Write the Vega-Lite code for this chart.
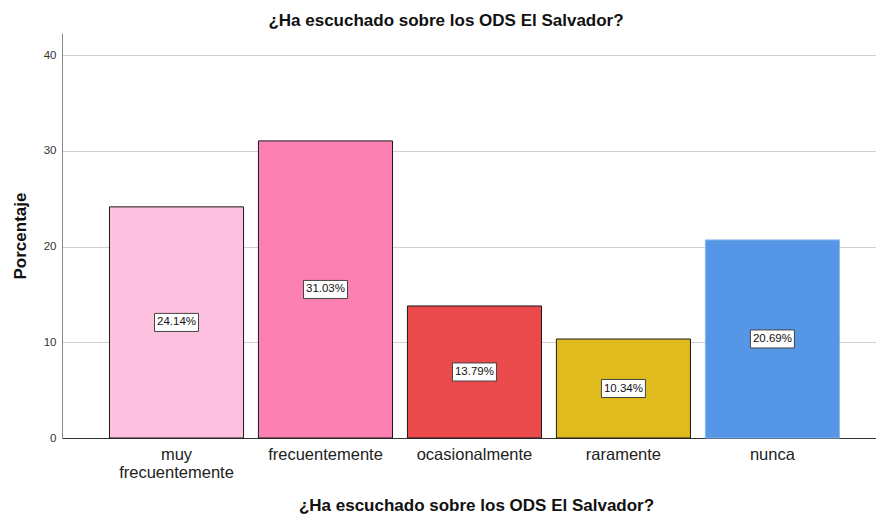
{
  "$schema": "https://vega.github.io/schema/vega-lite/v6.json",
  "width": 814,
  "height": 405,
  "autosize": {"type": "none"},
  "padding": {"left": 62, "top": 33, "right": 0, "bottom": 76},
  "background": "white",
  "config": {
    "font": "Liberation Sans",
    "view": {"stroke": null}
  },
  "title": {
    "text": "¿Ha escuchado sobre los ODS El Salvador?",
    "fontSize": 17,
    "fontWeight": "bold",
    "color": "#111",
    "anchor": "middle",
    "dx": -23,
    "offset": 3
  },
  "data": {
    "values": [
      {"cat": "muy frecuentemente", "value": 24.14},
      {"cat": "frecuentemente", "value": 31.03},
      {"cat": "ocasionalmente", "value": 13.79},
      {"cat": "raramente", "value": 10.34},
      {"cat": "nunca", "value": 20.69}
    ]
  },
  "transform": [
    {"calculate": "datum.value / 2", "as": "mid"},
    {"calculate": "format(datum.value, '.2f') + '%'", "as": "lbl"}
  ],
  "encoding": {
    "x": {
      "field": "cat",
      "type": "nominal",
      "sort": null,
      "scale": {"paddingInner": 0.1, "paddingOuter": 0.282, "align": 0.565},
      "axis": {
        "title": "¿Ha escuchado sobre los ODS El Salvador?",
        "titleFontSize": 17,
        "titleFontWeight": "bold",
        "titleColor": "#111",
        "titlePadding": 17,
        "titleX": 414,
        "labelAngle": 0,
        "labelFontSize": 16.5,
        "labelColor": "#222",
        "labelPadding": 8,
        "labelLineHeight": 18,
        "labelExpr": "datum.label == 'muy frecuentemente' ? ['muy', 'frecuentemente'] : datum.label",
        "ticks": false,
        "domainColor": "#333",
        "grid": false
      }
    }
  },
  "layer": [
    {
      "mark": {"type": "bar", "strokeWidth": 1},
      "encoding": {
        "y": {
          "field": "value",
          "type": "quantitative",
          "scale": {"domain": [0, 42.3], "nice": false},
          "axis": {
            "title": "Porcentaje",
            "titleFontSize": 17,
            "titleFontWeight": "bold",
            "titleColor": "#111",
            "titlePadding": 14,
            "values": [0, 10, 20, 30, 40],
            "labelFontSize": 11.5,
            "labelColor": "#333",
            "labelPadding": 6,
            "ticks": false,
            "domainColor": "#888",
            "gridColor": "#d0d0d0"
          }
        },
        "fill": {
          "field": "cat",
          "type": "nominal",
          "sort": null,
          "scale": {"range": ["#FEC0DF", "#FD80B2", "#EB4A4C", "#E0BB1E", "#5597E6"]},
          "legend": null
        },
        "stroke": {
          "field": "cat",
          "type": "nominal",
          "sort": null,
          "scale": {"range": ["#1a1a1a", "#1a1a1a", "#1a1a1a", "#1a1a1a", "#8ab8ee"]},
          "legend": null
        }
      }
    },
    {
      "mark": {
        "type": "point",
        "shape": "M-1,-0.41H1V0.41H-1Z",
        "size": 1936,
        "filled": true,
        "fill": "white",
        "stroke": "#444",
        "strokeWidth": 1,
        "opacity": 1
      },
      "encoding": {
        "y": {"field": "mid", "type": "quantitative"}
      }
    },
    {
      "mark": {"type": "text", "fontSize": 11.5, "color": "#111"},
      "encoding": {
        "y": {"field": "mid", "type": "quantitative"},
        "text": {"field": "lbl", "type": "nominal"}
      }
    }
  ]
}
